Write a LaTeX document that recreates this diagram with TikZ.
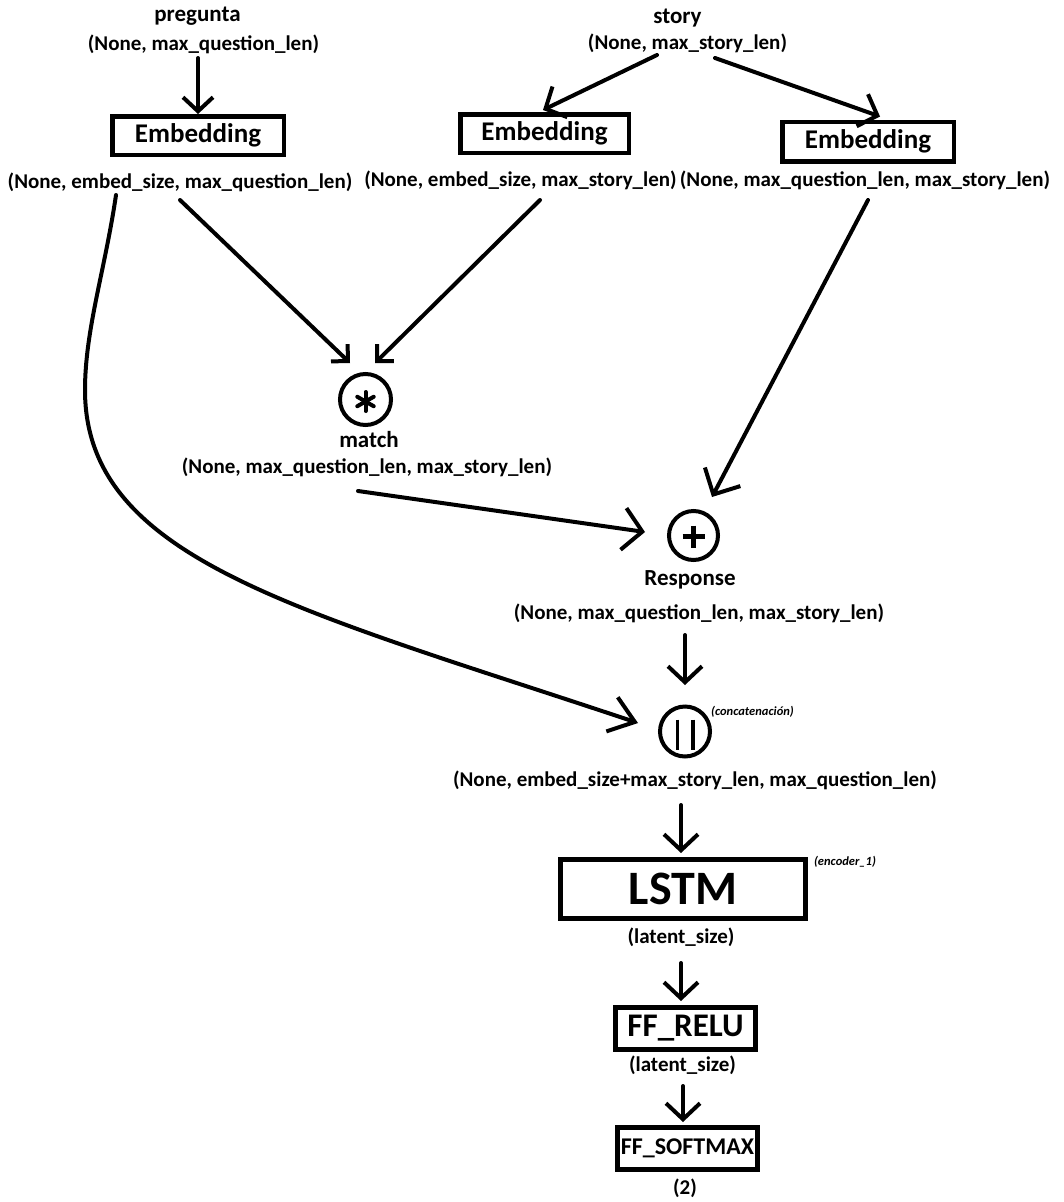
\documentclass[tikz,border=0pt]{standalone}
\usepackage{fontspec}
\setmainfont{Carlito}
\usetikzlibrary{arrows.meta,calc}

\begin{document}
\begin{tikzpicture}[x=1pt,y=-1pt,
  lbl/.style={font=\fontsize{21}{24}\selectfont\bfseries, inner sep=0pt},
  ttl/.style={font=\fontsize{23}{26}\selectfont\bfseries, inner sep=0pt},
  note/.style={font=\fontsize{12.5}{14}\selectfont\bfseries\itshape, inner sep=0pt},
  layer/.style={draw, line width=4.5pt, inner sep=0pt},
  op/.style={draw, circle, line width=4pt, inner sep=0pt},
  arr/.style={line width=4pt, line cap=round, -{Straight Barb[length=16pt,width=34pt]}},
  tipsize/.style 2 args={-{Straight Barb[length=#1,width=#2]}},
  glyph/.style={line width=4pt},
]
\useasboundingbox (0,0) rectangle (1063,1202);

% inputs
\node[ttl] (pt) at (197.5,16) {pregunta};
\node[lbl] (pq) at (203.5,44) {(None, max\_question\_len)};
\node[ttl] (st) at (677.5,18) {story};
\node[lbl] (sq) at (687.5,43) {(None, max\_story\_len)};

% embeddings
\node[layer, minimum width=171.5, minimum height=38.5,
      font=\fontsize{27}{30}\selectfont\bfseries] (e1) at (198,135.5) {Embedding};
\node[layer, minimum width=168.5, minimum height=38.5,
      font=\fontsize{27}{30}\selectfont\bfseries] (e2) at (544.5,133.5) {Embedding};
\node[layer, minimum width=171.5, minimum height=39.5,
      font=\fontsize{27}{30}\selectfont\bfseries] (e3) at (868,141.5) {Embedding};
\node[lbl] (lq) at (180,182) {(None, embed\_size, max\_question\_len)};
\node[lbl] (l2) at (520.5,180) {(None, embed\_size, max\_story\_len)};
\node[lbl] (l3) at (865,180) {(None, max\_question\_len, max\_story\_len)};

% match: circle with a six-armed asterisk
\node[op, minimum size=51] (m) at (365.5,399.5) {};
\foreach \ang in {90,30,150}
  \draw[glyph, line cap=round] ($(m)+(\ang:-9.5)+(0,2)$) -- ($(m)+(\ang:9.5)+(0,2)$);
\node[ttl] (mt) at (369,440) {match};
\node[lbl] (lm) at (367,467) {(None, max\_question\_len, max\_story\_len)};

% response: circle with a plus
\node[op, minimum size=49] (p) at (693.5,535.5) {};
\draw[glyph, line width=4.5pt] ($(p)+(-11,1)$) -- ($(p)+(11,1)$);
\draw[glyph, line width=4.5pt] ($(p)+(0,-10)$) -- ($(p)+(0,12)$);
\node[ttl] (rt) at (690,580) {Response};
\node[lbl] (lr) at (699,613) {(None, max\_question\_len, max\_story\_len)};

% concatenation: circle with two bars
\node[op, minimum size=50] (c) at (685,731.5) {};
\draw[glyph, line width=3.5pt] ($(c)+(-7.5,-12)$) -- ($(c)+(-7.5,18)$);
\draw[glyph, line width=3.5pt] ($(c)+(8,-12)$) -- ($(c)+(8,18)$);
\node[note] (cn) at (752.5,712) {(concatenación)};
\node[lbl] (lc) at (695,780) {(None, embed\_size+max\_story\_len, max\_question\_len)};

% LSTM and feed-forward layers
\node[layer, minimum width=245, minimum height=59,
      font=\fontsize{48}{50}\selectfont\bfseries] (lstm) at (683,889) {LSTM};
\node[note] (enc) at (845,862) {(encoder\_1)};
\node[lbl] (ls1) at (681,937) {(latent\_size)};
\node[layer, minimum width=140, minimum height=42,
      font=\fontsize{33}{35}\selectfont\bfseries] (relu) at (685.5,1028.5) {FF\_RELU};
\node[lbl] (ls2) at (682.5,1065) {(latent\_size)};
\node[layer, minimum width=140, minimum height=42,
      font=\fontsize{24}{26}\selectfont\bfseries] (soft) at (687.5,1148.5) {FF\_SOFTMAX};
\node[lbl] (out) at (685,1188) {(2)};

% connectors
\draw[arr, tipsize={14pt}{30pt}] ($(pq)+(-5.5,14)$) -- (e1.north);
\draw[arr] ($(sq)+(-30.5,12)$) -- ($(e2.north)+(-1.5,-2)$);
\draw[arr] ($(sq)+(27.5,15)$) -- ($(e3.north)+(12,-3)$);
\draw[arr, tipsize={12pt}{24pt}] ($(lq)+(0,18)$) -- ($(m)+(-15.5,-36.5)$);
\draw[arr, tipsize={12pt}{24pt}] ($(l2)+(19.5,20)$) -- ($(m)+(9.5,-36.5)$);
\draw[arr, tipsize={19pt}{42pt}] ($(lm)+(-9,24)$) -- ($(p)+(-48.5,-3.5)$);
\draw[arr, tipsize={20pt}{40pt}] ($(l3)+(3,20)$) -- ($(p)+(18.5,-38.5)$);
\draw[arr] ($(lr)+(-14,22)$) -- ($(c)+(0,-46.5)$);
\draw[arr, tipsize={24pt}{36pt}] ($(lq)+(-64,13)$)
  .. controls (105,270) and (85,330) .. (85,390)
  .. controls (85,560) and (300,610) .. ($(c)+(-47,-8.5)$);
\draw[arr] ($(lc)+(-14,25)$) -- ($(lstm)+(-2,-36)$);
\draw[arr] ($(ls1)+(0,26)$) -- ($(relu)+(-4.5,-27.5)$);
\draw[arr] ($(ls2)+(0.5,21)$) -- ($(soft)+(-4.5,-26.5)$);
\end{tikzpicture}
\end{document}
